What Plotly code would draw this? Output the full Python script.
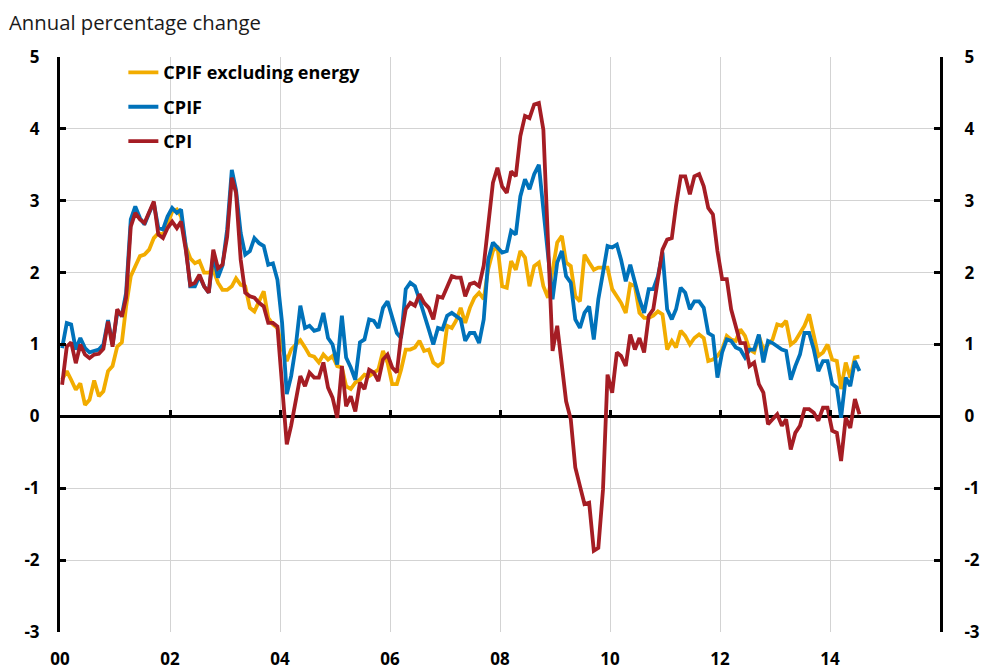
import pandas as pd
import plotly.graph_objects as go

# Monthly annual percentage change, Jan 2000 - Jul 2014
cpif_ex_energy = [
    0.51, 0.63, 0.51, 0.37, 0.46, 0.16, 0.23, 0.50, 0.28, 0.35, 0.63, 0.70,  # 2000
    0.97, 1.03, 1.53, 1.95, 2.09, 2.23, 2.25, 2.32, 2.48, 2.55, 2.53, 2.67,  # 2001
    2.85, 2.88, 2.78, 2.37, 2.20, 2.13, 2.16, 2.00, 2.00, 2.04, 1.86, 1.76,  # 2002
    1.76, 1.81, 1.92, 1.83, 1.81, 1.51, 1.46, 1.60, 1.74, 1.37, 1.28, 1.23,  # 2003
    0.95, 0.77, 0.93, 1.00, 1.06, 0.96, 0.85, 0.83, 0.75, 0.86, 0.79, 0.84,  # 2004
    0.70, 0.68, 0.42, 0.38, 0.47, 0.51, 0.58, 0.56, 0.61, 0.65, 0.91, 0.75,  # 2005
    0.45, 0.45, 0.65, 0.93, 0.93, 0.96, 1.05, 0.91, 0.93, 0.75, 0.70, 0.75,  # 2006
    1.26, 1.23, 1.33, 1.51, 1.30, 1.51, 1.65, 1.72, 1.63, 2.05, 2.30, 2.37,  # 2007
    1.81, 1.79, 2.16, 2.04, 2.30, 2.21, 1.81, 2.09, 2.14, 1.81, 1.65, 2.05,  # 2008
    2.42, 2.51, 2.14, 2.09, 1.67, 1.60, 2.25, 2.14, 2.04, 2.07, 2.07, 2.07,  # 2009
    1.77, 1.67, 1.58, 1.44, 1.84, 1.81, 1.44, 1.37, 1.37, 1.40, 1.46, 1.42,  # 2010
    0.93, 1.05, 0.96, 1.19, 1.12, 1.00, 1.09, 1.14, 1.09, 0.77, 0.79, 0.84,  # 2011
    0.93, 1.12, 1.07, 1.05, 1.21, 1.12, 0.93, 0.89, 1.12, 0.93, 1.00, 1.07,  # 2012
    1.28, 1.26, 1.33, 1.00, 1.05, 1.16, 1.26, 1.42, 1.14, 0.84, 0.89, 1.00,  # 2013
    0.79, 0.77, 0.38, 0.75, 0.54, 0.82, 0.83,                                # 2014
]

cpif = [
    0.95, 1.30, 1.28, 0.93, 1.09, 0.95, 0.89, 0.91, 0.93, 1.00, 1.34, 1.00,
    1.44, 1.41, 1.72, 2.74, 2.92, 2.76, 2.67, 2.83, 2.97, 2.62, 2.60, 2.78,
    2.90, 2.83, 2.88, 2.37, 1.81, 1.81, 1.95, 1.81, 1.72, 2.25, 1.93, 2.10,
    2.60, 3.43, 3.15, 2.55, 2.25, 2.30, 2.48, 2.41, 2.37, 2.11, 2.13, 1.90,
    1.30, 0.31, 0.56, 0.98, 1.54, 1.23, 1.26, 1.19, 1.21, 1.44, 1.09, 1.00,
    0.72, 1.40, 0.82, 0.68, 0.51, 1.03, 1.07, 1.35, 1.33, 1.23, 1.51, 1.60,
    1.37, 1.16, 1.09, 1.77, 1.86, 1.81, 1.63, 1.40, 1.21, 1.00, 1.23, 1.21,
    1.40, 1.44, 1.40, 1.35, 1.05, 1.16, 1.16, 1.02, 1.35, 2.18, 2.42, 2.35,
    2.28, 2.30, 2.58, 2.53, 3.06, 3.30, 3.16, 3.37, 3.50, 2.88, 2.28, 1.63,
    2.14, 2.30, 1.95, 1.86, 1.35, 1.23, 1.44, 1.53, 1.07, 1.63, 2.00, 2.37,
    2.35, 2.39, 2.18, 1.88, 2.11, 1.84, 1.63, 1.44, 1.77, 1.77, 1.95, 2.28,
    1.49, 1.35, 1.49, 1.79, 1.72, 1.49, 1.60, 1.60, 1.51, 1.16, 1.12, 0.54,
    0.89, 1.07, 1.05, 0.96, 0.93, 0.82, 0.93, 0.93, 1.14, 0.75, 1.05, 1.02,
    0.98, 0.93, 0.91, 0.51, 0.70, 0.86, 1.16, 1.16, 0.93, 0.63, 0.77, 0.77,
    0.45, 0.40, -0.02, 0.54, 0.42, 0.77, 0.63,
]

cpi = [
    0.44, 0.97, 1.03, 0.74, 1.00, 0.86, 0.81, 0.86, 0.87, 0.94, 1.32, 0.97,
    1.49, 1.39, 1.65, 2.64, 2.83, 2.74, 2.69, 2.83, 2.99, 2.53, 2.48, 2.62,
    2.71, 2.62, 2.71, 2.32, 1.83, 1.86, 1.97, 1.81, 1.72, 2.32, 2.06, 2.11,
    2.50, 3.32, 3.11, 2.18, 1.72, 1.67, 1.65, 1.58, 1.53, 1.30, 1.30, 1.25,
    0.50, -0.39, -0.13, 0.19, 0.56, 0.42, 0.61, 0.54, 0.54, 0.75, 0.40, 0.26,
    -0.02, 0.70, 0.14, 0.28, 0.07, 0.47, 0.38, 0.65, 0.61, 0.49, 0.79, 0.86,
    0.68, 0.61, 1.12, 1.49, 1.58, 1.54, 1.70, 1.58, 1.51, 1.35, 1.67, 1.65,
    1.81, 1.95, 1.93, 1.93, 1.67, 1.84, 1.86, 1.81, 2.10, 2.70, 3.25, 3.46,
    3.20, 3.11, 3.41, 3.34, 3.90, 4.18, 4.15, 4.34, 4.36, 3.99, 2.30, 0.91,
    1.26, 0.70, 0.21, -0.04, -0.71, -0.97, -1.22, -1.20, -1.87, -1.83, -1.02, 0.58,
    0.33, 0.89, 0.84, 0.70, 1.14, 0.93, 1.09, 0.89, 1.40, 1.49, 1.91, 2.32,
    2.46, 2.48, 2.93, 3.34, 3.34, 3.09, 3.34, 3.37, 3.20, 2.90, 2.81, 2.30,
    1.91, 1.91, 1.49, 1.23, 1.02, 1.02, 0.70, 0.75, 0.45, 0.33, -0.11, -0.04,
    0.03, -0.13, -0.04, -0.46, -0.23, -0.13, 0.10, 0.10, 0.05, -0.06, 0.12, 0.12,
    -0.20, -0.23, -0.62, -0.02, -0.16, 0.24, 0.03,
]

series_names = ["CPIF excluding energy", "CPIF", "CPI"]
series_colors = ["#F2AC00", "#0072BA", "#A51D24"]

tick_years = [2000, 2002, 2004, 2006, 2008, 2010, 2012, 2014]
tick_labels = ["00", "02", "04", "06", "08", "10", "12", "14"]
y_ticks = [-3, -2, -1, 0, 1, 2, 3, 4, 5]
y_labels = ["-3", "-2", "-1", "0", "1", "2", "3", "4", "5"]

dates = pd.date_range("2000-01-01", periods=len(cpi), freq="MS") + pd.Timedelta(days=14)
tick_dates = [f"{y}-01-01" for y in tick_years]
x_range = ["2000-01-01", "2016-01-01"]

FONT = "Open Sans"
tickfont = dict(family=FONT, size=17, color="black", weight="bold")

fig = go.Figure()
for name, vals, col in zip(series_names, [cpif_ex_energy, cpif, cpi], series_colors):
    fig.add_trace(go.Scatter(
        x=dates, y=vals, mode="lines", name=name, legendgroup=name,
        line=dict(color=col, width=3.8), hoverinfo="skip",
    ))

# empty trace so the secondary axes (right y axis, ticks on zero line) are drawn
fig.add_trace(go.Scatter(x=[], y=[], xaxis="x2", yaxis="y2", showlegend=False, hoverinfo="skip"))

fig.update_layout(
    width=985, height=670,
    margin=dict(l=60, r=45, t=57, b=38),
    paper_bgcolor="white", plot_bgcolor="white",
    showlegend=True,
    legend=dict(
        x=0.072, y=1.005, xanchor="left", yanchor="top",
        bgcolor="rgba(0,0,0,0)", font=dict(family=FONT, size=18, color="black", weight="bold"),
        tracegroupgap=8, traceorder="grouped", itemwidth=30,
    ),
    xaxis=dict(
        type="date", range=x_range, tickvals=tick_dates, ticktext=tick_labels,
        showgrid=True, gridcolor="#d3d3d3", gridwidth=1,
        ticks="", showline=False, zeroline=False, automargin=False,
        tickfont=tickfont, ticklabelstandoff=15,
    ),
    xaxis2=dict(
        type="date", range=x_range, tickvals=tick_dates + ["2016-01-01"],
        overlaying="x", anchor="free", position=0.375, side="bottom",
        ticks="inside", ticklen=6, tickwidth=3, tickcolor="black", automargin=False,
        showticklabels=False, showgrid=False, showline=False, zeroline=False,
    ),
    yaxis=dict(
        range=[-3, 5], tickvals=y_ticks, ticktext=y_labels,
        showgrid=True, gridcolor="#d3d3d3", gridwidth=1,
        zeroline=True, zerolinecolor="black", zerolinewidth=3,
        showline=True, linecolor="black", linewidth=3,
        ticks="inside", ticklen=6, tickwidth=3, tickcolor="black", automargin=False,
        tickfont=tickfont, ticklabelstandoff=14,
    ),
    yaxis2=dict(
        range=[-3, 5], tickvals=y_ticks, ticktext=y_labels,
        overlaying="y", side="right", anchor="x",
        showgrid=False, zeroline=False,
        showline=True, linecolor="black", linewidth=3,
        ticks="inside", ticklen=6, tickwidth=3, tickcolor="black", automargin=False,
        tickfont=tickfont, ticklabelstandoff=18,
    ),
    annotations=[dict(
        text="Annual percentage change", xref="paper", yref="paper",
        x=-0.060, y=1.060, xanchor="left", yanchor="middle", showarrow=False,
        font=dict(family=FONT, size=20.3, color="#1a1a1a"),
    )],
)

fig.write_html(
    "out.html",
    config={"displayModeBar": False},
    post_script="document.body.style.margin='0';document.body.style.overflow='hidden';",
)
